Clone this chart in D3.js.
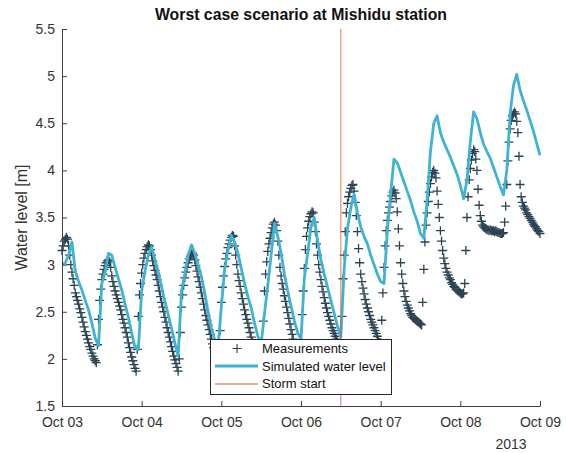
<!DOCTYPE html>
<html>
<head>
<meta charset="utf-8">
<script src="https://cdn.jsdelivr.net/npm/d3@7"></script>
<style>
  body { margin: 0; background: #fff; }
  svg { display: block; font-family: "Liberation Sans", Arial, sans-serif; }
</style>
</head>
<body>
<svg id="chart" width="567" height="453"></svg>
<script>
// measured water level, one value every 20 minutes from Oct 03 00:00
const measStart = new Date(Date.UTC(2013, 9, 3));
const measStepMin = 20;
const measured = [
  3.15, 3.2, 3.25, 3.27, 3.29, 3.27, 3.2, 3.1, 3.0, 2.92, 2.85, 2.78, 2.7, 2.66, 2.62, 2.58, 2.53, 2.49,
  2.44, 2.39, 2.34, 2.29, 2.25, 2.21, 2.17, 2.13, 2.1, 2.06, 2.03, 2.0, 1.98, 1.96, 2.15, 2.42, 2.62, 2.74,
  2.84, 2.9, 2.95, 2.99, 3.02, 3.04, 3.05, 3.03, 2.97, 2.88, 2.82, 2.77, 2.72, 2.68, 2.64, 2.6, 2.56, 2.52,
  2.47, 2.42, 2.38, 2.33, 2.28, 2.23, 2.17, 2.12, 2.07, 2.02, 1.98, 1.94, 1.9, 1.87, 2.1, 2.45, 2.68, 2.8,
  2.91, 3.0, 3.07, 3.12, 3.16, 3.19, 3.21, 3.2, 3.16, 3.1, 3.04, 2.99, 2.94, 2.89, 2.84, 2.78, 2.72, 2.66,
  2.6, 2.55, 2.5, 2.44, 2.39, 2.33, 2.28, 2.23, 2.18, 2.13, 2.08, 2.03, 1.99, 1.95, 1.91, 1.87, 2.0, 2.28,
  2.55, 2.68, 2.78, 2.86, 2.92, 2.97, 3.02, 3.06, 3.09, 3.11, 3.12, 3.1, 3.05, 2.99, 2.93, 2.87, 2.82, 2.76,
  2.7, 2.64, 2.58, 2.52, 2.46, 2.41, 2.36, 2.31, 2.26, 2.21, 2.16, 2.12, 2.08, 2.04, 2.0, 1.97, 1.99, 2.3,
  2.6, 2.76, 2.88, 2.98, 3.06, 3.12, 3.18, 3.22, 3.26, 3.29, 3.31, 3.3, 3.2, 3.1, 3.0, 2.9, 2.83, 2.77,
  2.7, 2.64, 2.58, 2.52, 2.47, 2.42, 2.38, 2.33, 2.28, 2.23, 2.18, 2.14, 2.1, 2.06, 2.03, 2.0, 1.98, 1.97,
  1.98, 2.12, 2.4, 2.72, 2.9, 3.03, 3.14, 3.22, 3.28, 3.34, 3.39, 3.43, 3.45, 3.42, 3.36, 3.25, 3.1, 2.97,
  2.88, 2.8, 2.74, 2.67, 2.61, 2.55, 2.49, 2.43, 2.37, 2.31, 2.26, 2.21, 2.16, 2.12, 2.08, 2.05, 2.03, 2.02,
  2.2, 2.47, 2.72, 2.96, 3.16, 3.3, 3.39, 3.46, 3.51, 3.54, 3.56, 3.55, 3.45, 3.35, 3.22, 3.1, 3.0, 2.92,
  2.84, 2.77, 2.71, 2.65, 2.59, 2.54, 2.49, 2.45, 2.41, 2.37, 2.33, 2.3, 2.27, 2.24, 2.21, 2.18, 2.16, 2.14,
  2.14, 2.45, 2.85, 3.1, 3.35, 3.55, 3.65, 3.72, 3.77, 3.81, 3.84, 3.85, 3.78, 3.66, 3.52, 3.35, 3.17, 3.02,
  2.9, 2.82, 2.75, 2.69, 2.63, 2.58, 2.54, 2.5, 2.46, 2.42, 2.39, 2.36, 2.33, 2.3, 2.27, 2.24, 2.2, 2.17,
  2.17, 2.41, 2.7, 2.97, 3.2, 3.36, 3.47, 3.55, 3.61, 3.67, 3.73, 3.77, 3.79, 3.76, 3.7, 3.56, 3.38, 3.2,
  3.02, 2.9, 2.8, 2.72, 2.66, 2.61, 2.57, 2.54, 2.51, 2.48, 2.46, 2.44, 2.43, 2.42, 2.41, 2.4, 2.39, 2.38,
  2.37, 2.36, 2.6, 2.95, 3.24, 3.42, 3.55, 3.67, 3.77, 3.86, 3.93, 3.98, 4.0, 3.97, 3.92, 3.78, 3.64, 3.5,
  3.36, 3.25, 3.15, 3.07, 3.01, 2.96, 2.92, 2.89, 2.86, 2.84, 2.81, 2.79, 2.77, 2.76, 2.74, 2.73, 2.72, 2.71,
  2.7, 2.69, 2.69, 2.7, 2.8, 3.15, 3.5, 3.72, 3.9, 4.02, 4.11, 4.18, 4.22, 4.2, 4.12, 4.0, 3.8, 3.63,
  3.52, 3.46, 3.42, 3.4, 3.39, 3.38, 3.37, 3.37, 3.36, 3.37, 3.36, 3.36, 3.36, 3.35, 3.36, 3.35, 3.34, 3.34,
  3.33, 3.33, 3.33, 3.34, 3.45, 3.62, 3.85, 4.1, 4.3, 4.44, 4.53, 4.58, 4.6, 4.62, 4.6, 4.52, 4.4, 4.15,
  3.85, 3.72, 3.66, 3.62, 3.6, 3.58, 3.55, 3.53, 3.51, 3.49, 3.47, 3.45, 3.43, 3.41, 3.4, 3.38, 3.36, 3.35,
  3.33
];

// simulated water level, hourly from Oct 03 00:00
const simStepMin = 60;
const simulated = [
  3.0, 3.02, 3.1, 3.24, 2.93, 2.82, 2.73, 2.62, 2.52, 2.38, 2.22, 2.14,
  2.8, 2.92, 3.12, 3.1, 2.97, 2.85, 2.73, 2.58, 2.44, 2.27, 2.12, 2.1,
  2.72, 2.93, 3.1, 3.19, 3.05, 2.92, 2.76, 2.61, 2.47, 2.32, 2.17, 2.03,
  2.72, 2.9, 3.1, 3.21, 3.12, 3.0, 2.87, 2.7, 2.5, 2.33, 2.2, 2.12,
  2.55, 2.95, 3.15, 3.31, 3.24, 3.12, 2.96, 2.8, 2.66, 2.54, 2.38, 2.24,
  2.16, 2.48, 2.78, 3.1, 3.44, 3.3, 3.12, 2.9, 2.72, 2.56, 2.4, 2.28,
  2.2, 2.85, 3.12, 3.4, 3.5, 3.25, 3.05, 2.9, 2.76, 2.62, 2.48, 2.35,
  2.23, 2.95, 3.38, 3.6, 3.75, 3.55, 3.4, 3.3, 3.22, 3.1, 3.0, 2.9,
  2.82, 2.8, 3.35, 3.75, 4.12, 4.08, 3.98, 3.88, 3.78, 3.68, 3.56, 3.46,
  3.33, 3.28, 3.68, 4.2, 4.5, 4.58, 4.4, 4.3, 4.22, 4.14, 4.05, 3.96,
  3.84, 3.7, 3.9, 4.3, 4.62, 4.55, 4.4, 4.28, 4.2, 4.13, 4.03, 3.93,
  3.83, 3.74, 4.0, 4.6, 4.9, 5.02, 4.85, 4.74, 4.64, 4.53, 4.42, 4.29,
  4.16
];

const stormStart = new Date(Date.UTC(2013, 9, 6, 12));
const xDomain = [new Date(Date.UTC(2013, 9, 3)), new Date(Date.UTC(2013, 9, 9))];
const yTicks = [1.5, 2, 2.5, 3, 3.5, 4, 4.5, 5, 5.5];
const legendLabels = ["Measurements", "Simulated water level", "Storm start"];

const measColor = "#2b4352";
const simColor = "#3fb3d3";
const stormColor = "#d95319";
const axisColor = "#404040";

const margin = { left: 62, right: 27, top: 29, bottom: 47 };
const width = 567, height = 453;

const svg = d3.select("#chart");

const x = d3.scaleUtc()
    .domain(xDomain)
    .range([margin.left, width - margin.right]);
const y = d3.scaleLinear()
    .domain([1.5, 5.5])
    .range([height - margin.bottom, margin.top]);

const addMin = (d, m) => new Date(d.getTime() + m * 60000);
const measData = measured.map((v, i) => ({ t: addMin(measStart, i * measStepMin), v }));
const simData = simulated.map((v, i) => ({ t: addMin(measStart, i * simStepMin), v }));

// measurement markers ("+")
const plusPath = "M-4.5,0H4.5M0,-4.5V4.5";
svg.append("g")
    .attr("stroke", measColor)
    .attr("stroke-width", 1.3)
    .attr("fill", "none")
    .selectAll("path")
    .data(measData)
    .join("path")
    .attr("d", plusPath)
    .attr("transform", d => `translate(${x(d.t)},${y(d.v)})`);

// simulated line
svg.append("path")
    .datum(simData)
    .attr("fill", "none")
    .attr("stroke", simColor)
    .attr("stroke-width", 2.8)
    .attr("stroke-linejoin", "round")
    .attr("d", d3.line().x(d => x(d.t)).y(d => y(d.v)));

// storm start
svg.append("line")
    .attr("x1", x(stormStart)).attr("x2", x(stormStart))
    .attr("y1", y(5.5)).attr("y2", y(1.5))
    .attr("stroke", stormColor)
    .attr("stroke-opacity", 0.7)
    .attr("stroke-width", 1.1);

// axes (ticks pointing inward)
const yAxis = svg.append("g")
    .attr("transform", `translate(${margin.left},0)`)
    .call(d3.axisLeft(y).tickValues(yTicks).tickFormat(d => String(d))
        .tickSizeInner(-5).tickSizeOuter(0).tickPadding(7));
const xAxis = svg.append("g")
    .attr("transform", `translate(0,${height - margin.bottom})`)
    .call(d3.axisBottom(x).ticks(d3.utcDay.every(1)).tickFormat(d3.utcFormat("%b %d"))
        .tickSizeInner(-5).tickSizeOuter(0).tickPadding(11));

[xAxis, yAxis].forEach(g => {
    g.select(".domain").attr("stroke", axisColor);
    g.selectAll(".tick line").attr("stroke", axisColor);
    g.selectAll(".tick text")
        .attr("fill", "#333")
        .style("font-size", "14px")
        .style("font-family", "'Liberation Sans', Arial, sans-serif");
});

svg.append("text")
    .attr("x", 511).attr("y", 449)
    .attr("text-anchor", "middle")
    .attr("fill", "#333")
    .style("font-size", "14px")
    .text("2013");

// labels
svg.append("text")
    .attr("x", (margin.left + width - margin.right) / 2)
    .attr("y", 20)
    .attr("text-anchor", "middle")
    .attr("fill", "#111")
    .style("font-size", "15.8px")
    .style("font-weight", "bold")
    .text("Worst case scenario at Mishidu station");

svg.append("text")
    .attr("transform", `translate(27,${(margin.top + height - margin.bottom) / 2}) rotate(-90)`)
    .attr("text-anchor", "middle")
    .attr("fill", "#333")
    .style("font-size", "16px")
    .text("Water level [m]");

// legend
const legend = svg.append("g").attr("transform", "translate(210.5,339.5)");
legend.append("rect")
    .attr("width", 181).attr("height", 55)
    .attr("fill", "#fff")
    .attr("stroke", "#262626")
    .attr("stroke-width", 1);

const rows = legend.selectAll("g.row")
    .data(legendLabels)
    .join("g")
    .attr("class", "row")
    .attr("transform", (d, i) => `translate(0,${9 + i * 17.5})`);

rows.append("text")
    .attr("x", 51.5).attr("y", 0).attr("dy", "0.35em")
    .attr("fill", "#111")
    .style("font-size", "13px")
    .text(d => d);

rows.filter((d, i) => i === 0).append("path")
    .attr("d", plusPath)
    .attr("transform", "translate(26.5,0)")
    .attr("stroke", measColor)
    .attr("stroke-width", 1.1)
    .attr("fill", "none");
rows.filter((d, i) => i === 1).append("line")
    .attr("x1", 4.5).attr("x2", 47.5)
    .attr("stroke", simColor).attr("stroke-width", 2.8);
rows.filter((d, i) => i === 2).append("line")
    .attr("x1", 4.5).attr("x2", 47.5)
    .attr("y1", 0.5).attr("y2", 0.5)
    .attr("stroke", stormColor).attr("stroke-width", 1.2);
</script>
</body>
</html>
